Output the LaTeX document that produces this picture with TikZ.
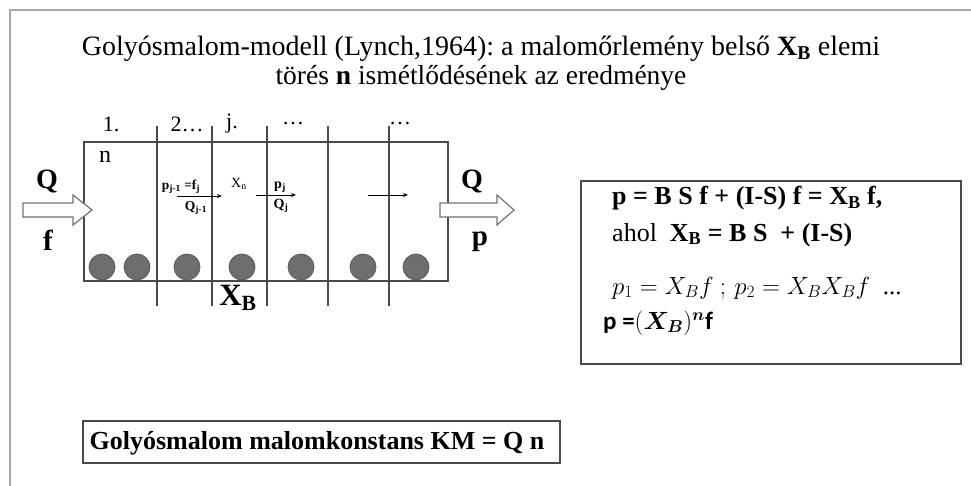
\documentclass[tikz,border=0pt]{standalone}
\usepackage{amsmath}
\usepackage{bm}
\usepackage{fontspec}
\setmainfont{Liberation Serif}
\newfontfamily\calfont{Carlito}
\usetikzlibrary{arrows.meta}
\frenchspacing
\definecolor{linec}{HTML}{4A4A4A}
\definecolor{framec}{HTML}{A8A8A8}
\definecolor{ballc}{HTML}{6E6E6E}
\tikzset{
  txt/.style={inner sep=0pt, anchor=center},
  ball/.style={circle, fill=ballc, draw=black!65, line width=0.8pt, minimum size=26pt, inner sep=0pt},
  divider/.style={draw=linec, line width=1.3pt},
  blockarrow/.style={draw=black!55, fill=white, line width=1.2pt, line join=miter},
  smallarrow/.style={draw=black, line width=0.8pt, -{Stealth[length=5pt,width=4pt]}},
  box/.style={draw=linec, line width=1.3pt, inner sep=0pt},
}
\begin{document}
\begin{tikzpicture}[x=1pt,y=-1pt]
\useasboundingbox (0,0) rectangle (971,486);
% outer frame
\draw[framec, line width=2pt] (10,486) -- (10,10) -- (971,10);
% title
\node[txt] (t1) at (481,49) {\fontsize{28}{30}\selectfont Golyósmalom-modell (Lynch,1964): a malomőrlemény belső \textbf{X\textsubscript{B}} elemi};
\node[txt] (t2) at (481,78) {\fontsize{27.5}{30}\selectfont törés \textbf{n} ismétlődésének az eredménye};
% column labels
\node[txt] (c1) at (111,124) {\fontsize{22}{24}\selectfont 1.};
\node[txt] (c2) at (187,124) {\fontsize{22}{24}\selectfont 2…};
\node[txt] (c3) at (232,124) {\fontsize{22}{24}\selectfont j.};
\node[txt] (c4) at (293,124) {\fontsize{22}{24}\selectfont …};
\node[txt] (c5) at (400,124) {\fontsize{22}{24}\selectfont …};
% mill body
\node[box, minimum width=364pt, minimum height=139pt] (mill) at (266,211.5) {};
\foreach \x [count=\i] in {157,212,267,328,389}{
  \coordinate (dt\i) at (\x,126);
  \coordinate (db\i) at (\x,306);
  \draw[divider] (dt\i) -- (db\i);
}
\node[txt] (n) at (105,157) {\fontsize{24}{26}\selectfont n};
% balls
\foreach \x [count=\i] in {102,137,187,242,301,363,416}{
  \node[ball] (b\i) at (\x,267) {};
}
% in/out block arrows
\draw[blockarrow] (23,203) -- (73,203) -- (73,195) -- (92,210) -- (73,225) -- (73,217) -- (23,217) -- cycle;
\draw[blockarrow] (440,203) -- (497,203) -- (497,195) -- (514,210) -- (497,225) -- (497,217) -- (440,217) -- cycle;
\node[txt] (qin) at (47,182) {\fontsize{28}{30}\selectfont\bfseries Q};
\node[txt] (fin) at (48,240) {\fontsize{29}{30}\selectfont\bfseries f};
\node[txt] (qout) at (472,182) {\fontsize{28}{30}\selectfont\bfseries Q};
\node[txt] (pout) at (480,242) {\fontsize{29}{30}\selectfont\bfseries p};
% cell labels
\node[txt] (l1) at (181,187) {\fontsize{13.5}{14}\selectfont\bfseries p\textsubscript{j-1} =f\textsubscript{j}};
\node[txt] (l2) at (196,208) {\fontsize{13.5}{14}\selectfont\bfseries Q\textsubscript{j-1}};
\node[txt] (l3) at (239,184) {\fontsize{14}{14}\selectfont X\textsubscript{n}};
\node[txt] (l4) at (280,187) {\fontsize{14}{14}\selectfont\bfseries p\textsubscript{j}};
\node[txt] (l5) at (281,206) {\fontsize{14}{14}\selectfont\bfseries Q\textsubscript{j}};
\coordinate (a1s) at (177,196); \coordinate (a1e) at (222,196);
\coordinate (a2s) at (256,195); \coordinate (a2e) at (296,195);
\coordinate (a3s) at (368,195); \coordinate (a3e) at (408,195);
\draw[smallarrow] (a1s) -- (a1e);
\draw[smallarrow] (a2s) -- (a2e);
\draw[smallarrow] (a3s) -- (a3e);
\node[txt] (xb) at (238,298) {\fontsize{31}{32}\selectfont\bfseries X\textsubscript{B}};
% right box
\node[box, minimum width=380pt, minimum height=183pt] (eqbox) at (771,272.5) {};
\node[txt, anchor=west] (e1) at (612,198) {\fontsize{26}{28}\selectfont\bfseries p = B S f + (I-S) f = X\textsubscript{B} f,};
\node[txt, anchor=west] (e2) at (612,235) {\fontsize{26}{28}\selectfont ahol \ \textbf{X\textsubscript{B} = B S \ + (I-S)}};
\node[txt, anchor=west] (e3) at (612,288) {\fontsize{25}{27}\selectfont $p_1 = X_B f\ ;\, p_2 = X_B X_B f$ \ ...};
\node[txt, anchor=west] (e4) at (603,323) {\fontsize{25}{27}\selectfont{\calfont\bfseries p =}$(\bm{X_B})^{\bm{n}}${\calfont\bfseries f}};
% bottom box
\node[box, minimum width=477pt, minimum height=42pt] (kmbox) at (321.5,442) {};
\node[txt] (km) at (317,443) {\fontsize{26}{28}\selectfont\bfseries Golyósmalom malomkonstans KM = Q n};
\end{tikzpicture}
\end{document}
